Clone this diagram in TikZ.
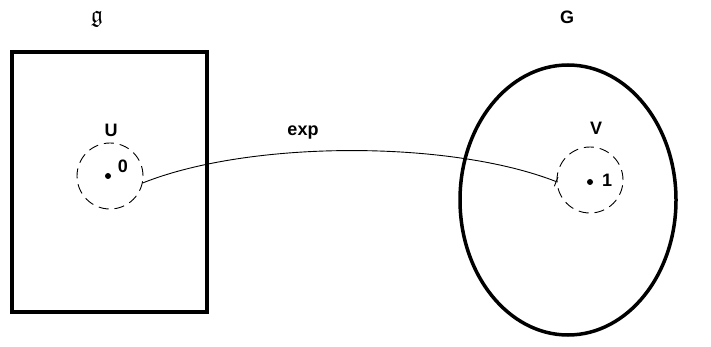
\documentclass[tikz,border=0pt]{standalone}
\usepackage{amssymb}
\usepackage{fontspec}
\setmainfont{Liberation Sans}
\usetikzlibrary{arrows.meta,shapes.geometric}
\begin{document}
\begin{tikzpicture}[x=1pt,y=-1pt,
  lbl/.style={font=\bfseries\fontsize{18}{20}\selectfont, inner sep=0pt},
  nbhd/.style={circle, draw, dash pattern=on 10pt off 6pt, line width=0.9pt, minimum size=66pt, inner sep=0pt},
  pt/.style={circle, fill, minimum size=6pt, inner sep=0pt},
  bigset/.style={draw, line width=3.5pt}]
\useasboundingbox (0,0) rectangle (711,347);
\node[bigset, rectangle, minimum width=195pt, minimum height=260pt, inner sep=0pt] (alg) at (109.5,182) {};
\node[bigset, ellipse, minimum width=216pt, minimum height=270pt, inner sep=0pt] (grp) at (568,200) {};
\node[font=\fontsize{24}{26}\selectfont, inner sep=0pt] (galg) at (97,19) {$\mathfrak{g}$};
\node[lbl] (glab) at (567,17) {G};
\node[nbhd] (uc) at (110,176) {};
\node[nbhd] (vc) at (590,180) {};
\node[pt] (p0) at (108,176) {};
\node[pt] (p1) at (590,182) {};
\node[lbl] (z) at (123,166) {0};
\node[lbl] (o) at (607,180) {1};
\node[lbl] (ul) at (111,130) {U};
\node[lbl] (vl) at (596,128) {V};
\node[lbl] (ex) at (303,133) {exp};
\draw[line width=0.9pt, -{Bar[width=10pt]}] (uc.-12) .. controls (250,140) and (450,140) .. (vc.183);
\end{tikzpicture}
\end{document}
